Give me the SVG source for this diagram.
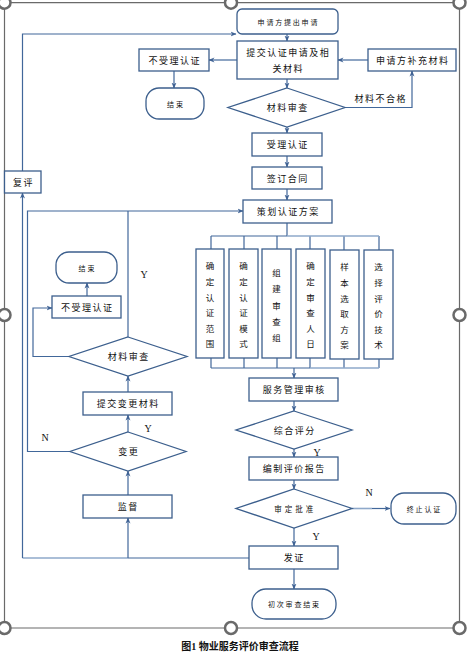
<svg xmlns="http://www.w3.org/2000/svg" width="468" height="656" viewBox="0 0 468 656">
<style>
.n{fill:#fff;stroke:#3C5F8D;stroke-width:1.3}
.c{fill:none;stroke:#41679A;stroke-width:1.2}
.cl{fill:none;stroke:#8EA8CA;stroke-width:1.6}
.t{font-family:"Noto Sans CJK SC","Noto Sans",sans-serif;font-size:9px;letter-spacing:1.5px;fill:#111;text-anchor:middle;dominant-baseline:central}
.s{font-size:7px;letter-spacing:1.8px}
.v{font-family:"Noto Sans CJK SC","Noto Sans",sans-serif;font-size:8.5px;fill:#111;text-anchor:middle;dominant-baseline:central}
.l{font-family:"Liberation Serif",serif;font-size:10px;fill:#111;text-anchor:middle}
.f{fill:none;stroke:#6a6a6a;stroke-width:1.2}
.h{fill:#fff;stroke:#6a6a6a;stroke-width:2.5}
</style>
<defs>
<marker id="a" markerWidth="6" markerHeight="6" refX="5.5" refY="3" orient="auto" markerUnits="userSpaceOnUse">
<path d="M0,0.5 L6,3 L0,5.5 L1.8,3 z" fill="#3F6294"/>
</marker>
</defs>
<rect width="468" height="656" fill="#fff"/>
<g id="frame">
<path class="f" d="M4.5,2.7 H459.5 V628 H4.5 Z"/>
<circle class="h" cx="4.5" cy="2.7" r="6"/>
<circle class="h" cx="231" cy="2.7" r="6"/>
<circle class="h" cx="459.5" cy="2.7" r="6"/>
<circle class="h" cx="4.5" cy="315" r="6"/>
<circle class="h" cx="459.5" cy="315" r="6"/>
<circle class="h" cx="4.5" cy="628" r="6"/>
<circle class="h" cx="231" cy="628" r="6"/>
<circle class="h" cx="459.5" cy="628" r="6"/>
</g>
<g id="connectors">
<path class="c" marker-end="url(#a)" d="M287,34 V41"/>
<path class="c" marker-end="url(#a)" d="M237,60 H209"/>
<path class="c" marker-end="url(#a)" d="M368,60 H338"/>
<path class="c" marker-end="url(#a)" d="M174,71 V88"/>
<path class="c" marker-end="url(#a)" d="M287,79 V88"/>
<path class="c" marker-end="url(#a)" d="M345,107.5 H412 V71"/>
<path class="c" marker-end="url(#a)" d="M287,127 V133"/>
<path class="c" marker-end="url(#a)" d="M287,156 V167"/>
<path class="c" marker-end="url(#a)" d="M287,189 V200"/>
<path class="c" marker-end="url(#a)" d="M22.5,171 V34 H236"/>
<path class="c" marker-end="url(#a)" d="M70,451.5 H27.5 V211 H243"/>
<path class="c" d="M128,337 V211"/>
<path class="c" marker-end="url(#a)" d="M69,356.5 H33 V308 H52"/>
<path class="c" marker-end="url(#a)" d="M87,296 V283"/>
<path class="c" marker-end="url(#a)" d="M128,392 V376"/>
<path class="c" marker-end="url(#a)" d="M128,432 V415"/>
<path class="c" marker-end="url(#a)" d="M128,495 V471"/>
<path class="c" d="M249,558 H128"/>
<path class="cl" d="M128,558 H22.5"/>
<path class="c" marker-end="url(#a)" d="M22.5,558 V193"/>
<path class="c" marker-end="url(#a)" d="M128,558 V518"/>
<path class="c" d="M287,223 V236 M211,236 H287 M211,236 V249 M244,236 V249 M277,236 V249 M310,236 V249 M344,236 V250 M379,236 V250"/>
<path class="cl" d="M287,236 H379"/>
<path class="c" d="M211,358 V368 M244,358 V368 M277,358 V368 M310,358 V368 M344,359 V368 M379,359 V368 M211,368 H310"/>
<path class="cl" d="M310,368 H379"/>
<path class="c" marker-end="url(#a)" d="M294,368 V378"/>
<path class="c" marker-end="url(#a)" d="M294,401 V411"/>
<path class="c" marker-end="url(#a)" d="M294,449 V457"/>
<path class="c" marker-end="url(#a)" d="M294,480 V489"/>
<path class="cl" d="M352,508.5 H372"/>
<path class="c" marker-end="url(#a)" d="M372,508.5 H390"/>
<path class="c" marker-end="url(#a)" d="M294,528 V546"/>
<path class="c" marker-end="url(#a)" d="M294,569 V589"/>
</g>
<g id="labels">
<text class="t" x="380.8" y="98">材料不合格</text>
<text class="l" x="144" y="278">Y</text>
<text class="l" x="148" y="432">Y</text>
<text class="l" x="45" y="441">N</text>
<text class="l" x="317" y="456">Y</text>
<text class="l" x="369" y="496">N</text>
<text class="l" x="316" y="540">Y</text>
</g>
<g id="n1"><rect class="n" x="237" y="9" width="101" height="25" rx="5"/><text class="t s" x="288.4" y="21.5">申请方提出申请</text></g>
<g id="n2"><rect class="n" x="237" y="41" width="101" height="38"/><text class="t" x="288.3" y="52">提交认证申请及相</text><text class="t" x="288.3" y="68">关材料</text></g>
<g id="n3"><rect class="n" x="139" y="49" width="70" height="22"/><text class="t" x="174.8" y="60">不受理认证</text></g>
<g id="n4"><rect class="n" x="368" y="49" width="88" height="22"/><text class="t" x="412.8" y="60">申请方补充材料</text></g>
<g id="n5"><rect class="n" x="146" y="88" width="58" height="31" rx="13"/><text class="t s" x="175.9" y="103.5">结束</text></g>
<g id="n6"><polygon class="n" points="287,88 345,107.5 287,127 228,107.5"/><text class="t" x="287.8" y="107.5">材料审查</text></g>
<g id="n7"><rect class="n" x="252" y="133" width="70" height="23"/><text class="t" x="287.8" y="144.5">受理认证</text></g>
<g id="n8"><rect class="n" x="252" y="167" width="70" height="22"/><text class="t" x="287.8" y="178">签订合同</text></g>
<g id="n9"><rect class="n" x="243" y="200" width="89" height="23"/><text class="t" x="288.3" y="211.5">策划认证方案</text></g>
<g id="n10"><rect class="n" x="4.5" y="171" width="36.5" height="22"/><text class="t" x="23.5" y="182">复评</text></g>
<g id="b1"><rect class="n" x="196" y="249" width="28" height="109"/>
<text class="v" x="210" y="265">确</text><text class="v" x="210" y="281">定</text><text class="v" x="210" y="297">认</text><text class="v" x="210" y="312">证</text><text class="v" x="210" y="328">范</text><text class="v" x="210" y="343">围</text></g>
<g id="b2"><rect class="n" x="229" y="249" width="29" height="109"/>
<text class="v" x="243.5" y="265">确</text><text class="v" x="243.5" y="281">定</text><text class="v" x="243.5" y="297">认</text><text class="v" x="243.5" y="312">证</text><text class="v" x="243.5" y="328">模</text><text class="v" x="243.5" y="343">式</text></g>
<g id="b3"><rect class="n" x="262" y="249" width="29" height="109"/>
<text class="v" x="276.5" y="272">组</text><text class="v" x="276.5" y="288">建</text><text class="v" x="276.5" y="305">审</text><text class="v" x="276.5" y="321">查</text><text class="v" x="276.5" y="337">组</text></g>
<g id="b4"><rect class="n" x="296" y="249" width="29" height="109"/>
<text class="v" x="310.5" y="265">确</text><text class="v" x="310.5" y="281">定</text><text class="v" x="310.5" y="297">审</text><text class="v" x="310.5" y="312">查</text><text class="v" x="310.5" y="328">人</text><text class="v" x="310.5" y="343">日</text></g>
<g id="b5"><rect class="n" x="330" y="250" width="29" height="109"/>
<text class="v" x="344.5" y="266">样</text><text class="v" x="344.5" y="282">本</text><text class="v" x="344.5" y="298">选</text><text class="v" x="344.5" y="313">取</text><text class="v" x="344.5" y="329">方</text><text class="v" x="344.5" y="344">案</text></g>
<g id="b6"><rect class="n" x="364" y="250" width="29" height="109"/>
<text class="v" x="378.5" y="266">选</text><text class="v" x="378.5" y="282">择</text><text class="v" x="378.5" y="298">评</text><text class="v" x="378.5" y="313">价</text><text class="v" x="378.5" y="329">技</text><text class="v" x="378.5" y="344">术</text></g>
<g id="n11"><rect class="n" x="56" y="252" width="61" height="31" rx="13"/><text class="t s" x="87.4" y="267.5">结束</text></g>
<g id="n12"><rect class="n" x="52" y="296" width="69" height="22"/><text class="t" x="87.3" y="307">不受理认证</text></g>
<g id="n13"><polygon class="n" points="128,337 187,356.5 128,376 69,356.5"/><text class="t" x="128.8" y="356.5">材料审查</text></g>
<g id="n14"><rect class="n" x="83" y="392" width="89" height="23"/><text class="t" x="128.3" y="403.5">提交变更材料</text></g>
<g id="n15"><polygon class="n" points="128,432 186,451.5 128,471 70,451.5"/><text class="t" x="128.8" y="451.5">变更</text></g>
<g id="n16"><rect class="n" x="83" y="495" width="89" height="23"/><text class="t" x="128.3" y="506.5">监督</text></g>
<g id="n17"><rect class="n" x="249" y="378" width="89" height="23"/><text class="t" x="294.3" y="389.5">服务管理审核</text></g>
<g id="n18"><polygon class="n" points="294,411 352,430 294,449 236,430"/><text class="t" x="294.8" y="430">综合评分</text></g>
<g id="n19"><rect class="n" x="249" y="457" width="89" height="23"/><text class="t" x="294.3" y="468.5">编制评价报告</text></g>
<g id="n20"><polygon class="n" points="294,489 352,508.5 294,528 236,508.5"/><text class="t" x="295.3" y="508.5" style="font-size:7.5px;letter-spacing:3px">审定批准</text></g>
<g id="n21"><rect class="n" x="391" y="493" width="65" height="31" rx="13"/><text class="t s" x="424.4" y="508.5">终止认证</text></g>
<g id="n22"><rect class="n" x="249" y="546" width="89" height="23"/><text class="t" x="294.3" y="557.5">发证</text></g>
<g id="n23"><rect class="n" x="252" y="589" width="84" height="30" rx="14"/><text class="t s" x="294.4" y="604">初次审查结束</text></g>
<text x="240" y="650" style="font-family:'Liberation Serif','Noto Sans CJK SC',serif;font-size:10px;font-weight:bold;text-anchor:middle;fill:#111">图1  物业服务评价审查流程</text>
</svg>
